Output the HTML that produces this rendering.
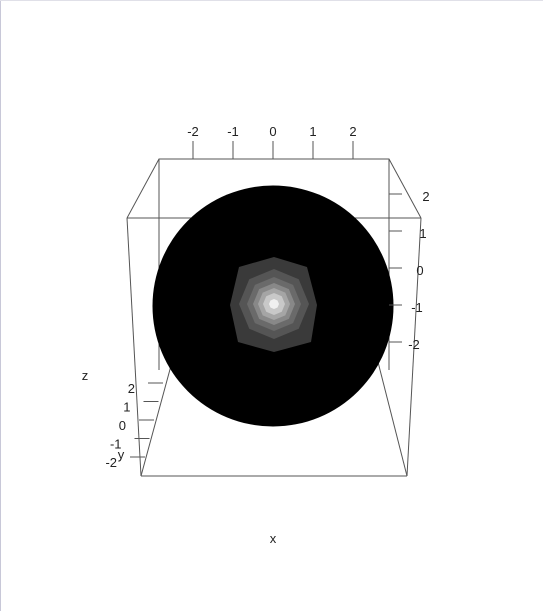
<!DOCTYPE html>
<html><head><meta charset="utf-8"><style>
body{margin:0;background:#fff;width:543px;height:611px;overflow:hidden;font-family:"Liberation Sans",sans-serif}
svg text{font-family:"Liberation Sans",sans-serif;font-size:13px;fill:#222}
</style></head><body>
<svg id="c" width="543" height="611">
<rect x="0" y="0" width="543" height="611" fill="#fff"/>
<line x1="0.5" y1="0" x2="0.5" y2="611" stroke="#c8c8d8"/>
<line x1="0" y1="0.5" x2="543" y2="0.5" stroke="#e0e0e8"/>
<g id="box" stroke="#555" stroke-width="1" fill="none">
<polyline points="127,218 159,159 389,159 421,218"/>
<line x1="127" y1="218" x2="421" y2="218"/>
<line x1="159" y1="159" x2="159" y2="370"/>
<line x1="389" y1="159" x2="389" y2="370"/>
<line x1="127" y1="218" x2="141" y2="476"/>
<line x1="421" y1="218" x2="407" y2="476"/>
<line x1="141" y1="476" x2="407" y2="476"/>
<line x1="141" y1="476" x2="172" y2="362"/>
<line x1="407" y1="476" x2="378" y2="362"/>
</g>
<circle cx="273" cy="306" r="120.5" fill="#000"/>
<g id="blob"></g>
<g id="axes"></g>
<text x="85" y="380" text-anchor="middle">z</text>
<text x="273" y="543" text-anchor="middle">x</text>
</svg>
<script>
const ticks=[-2,-1,0,1,2];
const xTickLabels=["-2","-1","0","1","2"];
const zTickLabels=["2","1","0","-1","-2"];
const yTickLabels=["2","1","0","-1","-2"];
const levelRadius=[44,35,27,21,16,11,5];
const levelGrey=[58,85,106,136,165,200,240];
const NS="http://www.w3.org/2000/svg";
const axes=document.getElementById('axes');
function mk(t,a,p){const e=document.createElementNS(NS,t);for(const k in a)e.setAttribute(k,a[k]);(p||axes).appendChild(e);return e;}
// x axis (top)
const xs=v=>273+v*40;
ticks.forEach((v,i)=>{
 const l=mk('line',{x1:xs(v),y1:141,x2:xs(v),y2:159,stroke:'#555'});
 
 
 const t=mk('text',{x:xs(v),y:136,'text-anchor':'middle'});t.textContent=xTickLabels[i];
 
 
});
// z axis (right)
const zs=v=>270-v*37;
ticks.slice().reverse().forEach((v,i)=>{
 const l=mk('line',{x1:389,y1:zs(v)-2,x2:402,y2:zs(v)-2,stroke:'#555'});
 
 
 const t=mk('text',{x:426-i*3,y:zs(v)+5,'text-anchor':'middle'});t.textContent=zTickLabels[i];
 
 
});
// y axis (left)
const ys=v=>420-v*18.5;
ticks.slice().reverse().forEach((v,i)=>{
 const xr=154+v*4.5;
 const l=mk('line',{x1:xr-15,y1:ys(v),x2:xr,y2:ys(v),stroke:'#555'});
 
 
 const t=mk('text',{x:xr-28,y:ys(v)+10,'text-anchor':'end'});t.textContent=yTickLabels[i];
 
 
});
const yt=mk('text',{x:121,y:459,'text-anchor':'middle'});yt.textContent='y';


// highlight levels
const blob=document.getElementById('blob');
const cx=274,cy=304;
levelRadius.forEach((r,i)=>{
 let pts=[];
 if(i===0){
  pts=[[0,-47],[33,-37],[43,1],[37,38],[0,48],[-36,38],[-44,1],[-35,-37]];
 } else {
  for(let k=0;k<8;k++){const a=(k*45-90)*Math.PI/180;pts.push([r*Math.cos(a),r*Math.sin(a)]);}
 }
 const g=levelGrey[i];
 const p=mk('polygon',{points:pts.map(q=>(cx+q[0])+','+(cy+q[1])).join(' '),fill:`rgb(${g},${g},${g})`},blob);
 
 
});
</script>
</body></html>
